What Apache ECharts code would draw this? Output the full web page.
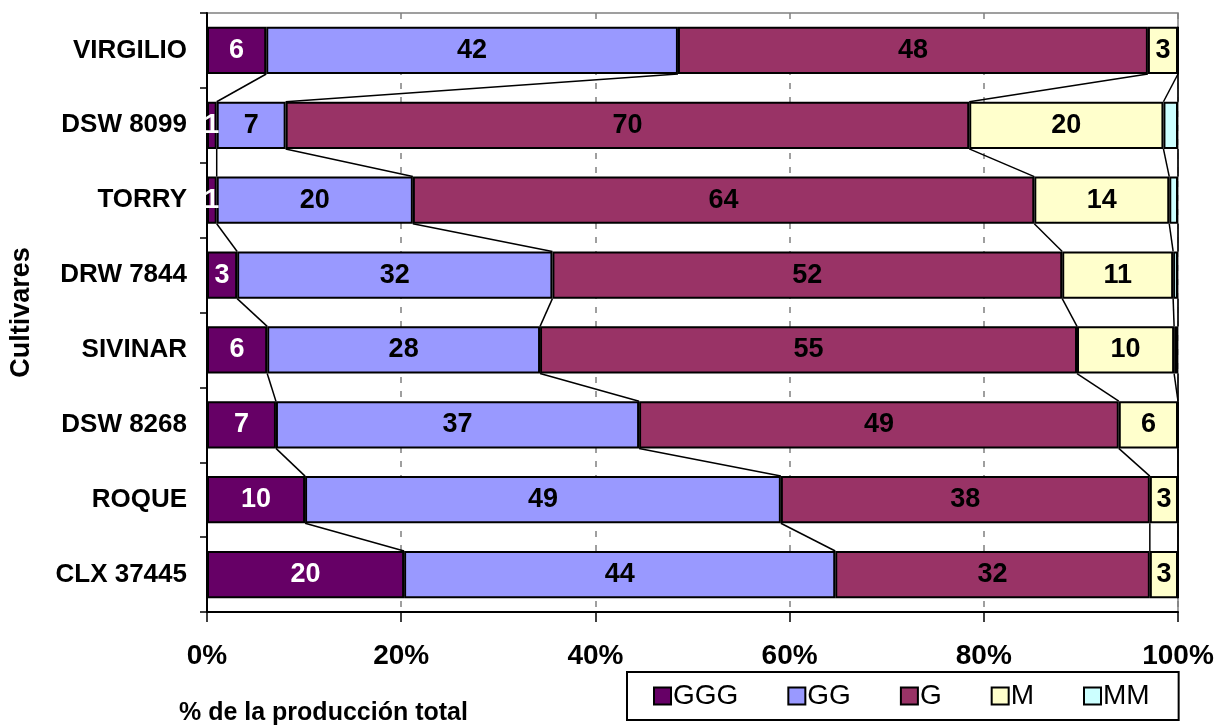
<!DOCTYPE html>
<html>
<head>
<meta charset="utf-8">
<script src="https://cdn.jsdelivr.net/npm/echarts@6/dist/echarts.min.js"></script>
<style>
  html, body { margin: 0; padding: 0; background: #fff; }
  #chart { width: 1223px; height: 727px; }
</style>
</head>
<body>
<div id="chart"></div>
<script>
// categorías (de arriba abajo)
const categories = ['VIRGILIO', 'DSW 8099', 'TORRY', 'DRW 7844', 'SIVINAR', 'DSW 8268', 'ROQUE', 'CLX 37445'];

// valores por calibre (% de la producción)
const GGG = [6.1, 1.0, 1.0, 3.1, 6.2, 7.1, 10.1, 20.3];
const GG = [42.4, 7.1, 20.2, 32.4, 28.1, 37.4, 49.0, 44.4];
const G = [48.4, 70.4, 64.0, 52.4, 55.3, 49.4, 38.0, 32.4];
const M = [3.1, 20.0, 13.9, 11.4, 10.0, 6.1, 2.9, 2.9];
const MM = [0, 1.5, 0.9, 0.5, 0.4, 0, 0, 0];

const xTicks = [0, 20, 40, 60, 80, 100];

const seriesNames = ['GGG', 'GG', 'G', 'M', 'MM'];
const seriesRaw = [GGG, GG, G, M, MM];
const colors = ['#660066', '#9999FF', '#993366', '#FFFFCC', '#CCFFFF'];
const FONT = "'Liberation Sans', Arial, sans-serif";
const BAR_RATIO = 0.63;

// normalizar al 100%
const totals = categories.map((_, i) => seriesRaw.reduce((s, arr) => s + arr[i], 0));
const seriesPct = seriesRaw.map(arr => arr.map((v, i) => (totals[i] === 0 ? 0 : (v / totals[i]) * 100)));

// acumulados para las líneas de serie
const cumulative = categories.map((_, i) => {
  let acc = 0;
  return seriesPct.map(arr => (acc += arr[i]));
});

const chart = echarts.init(document.getElementById('chart'));

const barSeries = seriesNames.map((name, k) => ({
  name: name,
  type: 'bar',
  stack: 'total',
  barWidth: (BAR_RATIO * 100) + '%',
  data: seriesPct[k],
  itemStyle: { color: colors[k], borderColor: '#000', borderWidth: 2 },
  label: {
    show: name !== 'MM',
    position: 'inside',
    color: k === 0 ? '#fff' : '#000',
    fontWeight: 'bold',
    fontSize: 27,
    fontFamily: FONT,
    formatter: (p) => {
      const raw = seriesRaw[k][p.dataIndex];
      return raw >= 0.5 ? String(Math.round(raw)) : '';
    },
  },
  emphasis: { disabled: true },
  z: 3,
}));

// líneas de serie entre barras consecutivas
const seriesLines = {
  type: 'custom',
  silent: true,
  data: categories.map((_, i) => [0, i]),
  encode: { x: 0, y: 1 },
  renderItem: (params, api) => {
    const i = params.dataIndex;
    if (i >= categories.length - 1) return null;
    const band = api.size([0, 1])[1];
    const half = band * BAR_RATIO / 2;
    const children = cumulative[i].map((c, k) => {
      const p1 = api.coord([c, i]);
      const p2 = api.coord([cumulative[i + 1][k], i + 1]);
      return {
        type: 'line',
        shape: { x1: p1[0], y1: p1[1] + half, x2: p2[0], y2: p2[1] - half },
        style: { stroke: '#000', lineWidth: 1.5 },
      };
    });
    return { type: 'group', children: children };
  },
  z: 2,
};

const option = {
  animation: false,
  title: {
    text: '% de la producción total',
    left: 179,
    top: 701,
    padding: 0,
    textStyle: { fontFamily: FONT, fontWeight: 'bold', fontSize: 25, color: '#000' },
  },
  legend: {
    data: seriesNames,
    left: 627,
    top: 672,
    padding: [10, 29, 10, 26],
    borderColor: '#000',
    borderWidth: 2,
    itemGap: 49,
    itemWidth: 17,
    itemHeight: 17,
    icon: 'rect',
    selectedMode: false,
    textStyle: { fontFamily: FONT, fontSize: 28, color: '#000', padding: [0, 0, 0, -3] },
  },
  grid: {
    left: 207,
    right: 45,
    top: 13,
    bottom: 115,
    containLabel: false,
    outerBoundsMode: 'none',
    show: true,
    borderColor: '#808080',
    borderWidth: 1.5,
  },
  xAxis: {
    type: 'value',
    min: xTicks[0],
    max: xTicks[xTicks.length - 1],
    interval: xTicks[1] - xTicks[0],
    axisLine: { show: true, lineStyle: { color: '#000', width: 2 } },
    axisTick: { show: true, length: 10, lineStyle: { color: '#000', width: 1.5 } },
    axisLabel: {
      formatter: '{value}%',
      margin: 30,
      color: '#000',
      fontFamily: FONT,
      fontWeight: 'bold',
      fontSize: 28,
    },
    splitLine: { show: true, lineStyle: { color: '#808080', type: [6, 8], width: 1.5 } },
  },
  yAxis: {
    type: 'category',
    inverse: true,
    data: categories,
    name: 'Cultivares',
    nameLocation: 'middle',
    nameRotate: 90,
    nameGap: 172,
    nameTextStyle: { fontFamily: FONT, fontWeight: 'bold', fontSize: 27, color: '#000' },
    axisLine: { show: true, lineStyle: { color: '#000', width: 2 } },
    axisTick: { show: true, length: 7, lineStyle: { color: '#000', width: 1.5 } },
    axisLabel: {
      margin: 20,
      color: '#000',
      fontFamily: FONT,
      fontWeight: 'bold',
      fontSize: 26,
    },
  },
  series: [...barSeries, seriesLines],
};

chart.setOption(option);
</script>
</body>
</html>
